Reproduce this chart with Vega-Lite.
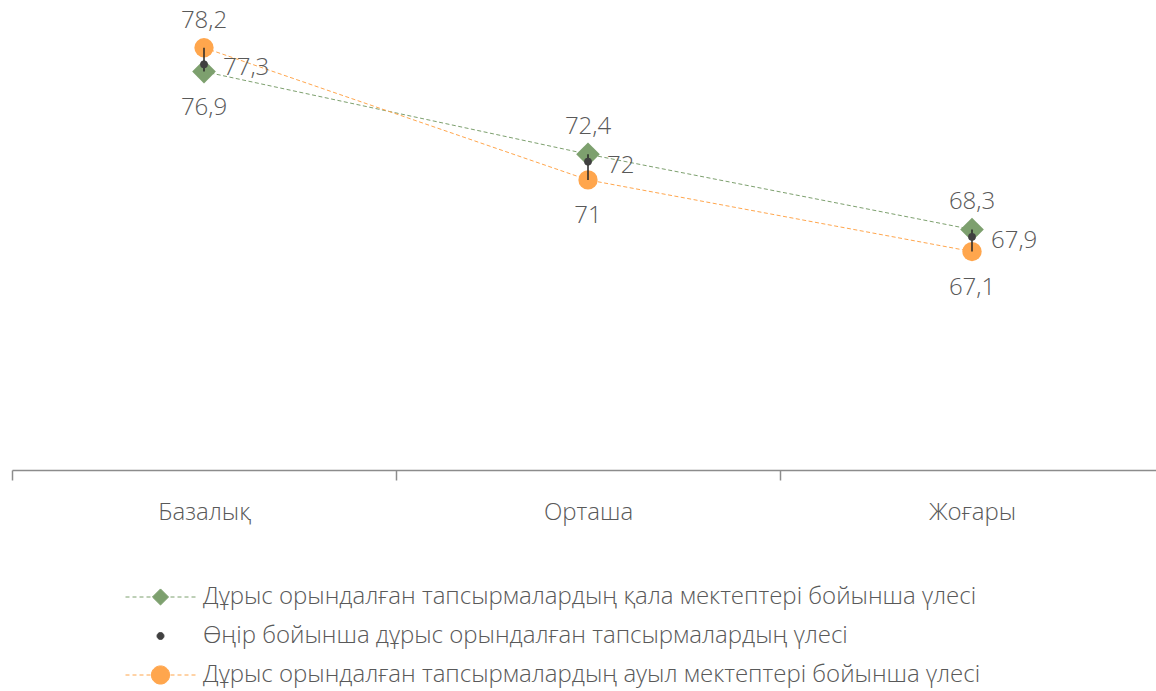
{
  "$schema": "https://vega.github.io/schema/vega-lite/v6.json",
  "width": 1144,
  "height": 470,
  "autosize": {"type": "none"},
  "padding": {"left": 12, "top": 0, "right": 0, "bottom": 221},
  "background": "white",
  "config": {
    "view": {"stroke": null},
    "font": "Open Sans",
    "locale": {"number": {"decimal": ",", "thousands": " ", "grouping": [3], "currency": ["", ""]}}
  },
  "data": {
    "values": [
      {"level": "Базалық", "type": "city", "value": 76.9},
      {"level": "Базалық", "type": "region", "value": 77.3},
      {"level": "Базалық", "type": "rural", "value": 78.2},
      {"level": "Орташа", "type": "city", "value": 72.4},
      {"level": "Орташа", "type": "region", "value": 72},
      {"level": "Орташа", "type": "rural", "value": 71},
      {"level": "Жоғары", "type": "city", "value": 68.3},
      {"level": "Жоғары", "type": "region", "value": 67.9},
      {"level": "Жоғары", "type": "rural", "value": 67.1}
    ]
  },
  "encoding": {
    "x": {
      "field": "level",
      "type": "nominal",
      "sort": ["Базалық", "Орташа", "Жоғары"],
      "scale": {"type": "band", "range": [0, 1152], "paddingInner": 0, "paddingOuter": 0},
      "axis": {
        "title": null,
        "grid": false,
        "domainColor": "#8C8C8C",
        "domainWidth": 1.5,
        "tickColor": "#8C8C8C",
        "tickWidth": 1.5,
        "tickSize": 10,
        "tickBand": "extent",
        "labelFontSize": 24,
        "labelColor": "#595959",
        "labelFont": "Open Sans",
        "labelFontWeight": 300,
        "labelPadding": 20,
        "labelAngle": 0
      }
    },
    "y": {
      "field": "value",
      "type": "quantitative",
      "scale": {"domain": [55.2, 80.8], "zero": false, "nice": false},
      "axis": null
    }
  },
  "layer": [
    {
      "transform": [{"filter": "datum.type != 'region'"}],
      "mark": {"type": "line", "strokeDash": [4, 2.5], "strokeWidth": 1},
      "encoding": {
        "color": {
          "field": "type",
          "type": "nominal",
          "scale": {"domain": ["city", "region", "rural"], "range": ["#7DA06E", "#404040", "#FFA64D"]},
          "legend": {
            "title": null,
            "orient": "none",
            "legendX": 113,
            "legendY": 582,
            "padding": 0,
            "rowPadding": 9,
            "clipHeight": 30,
            "symbolSize": 4900,
            "symbolOffset": 0,
            "labelOffset": 7,
            "labelFontSize": 24,
            "labelFont": "Open Sans",
            "labelFontWeight": 300,
            "labelColor": "#595959",
            "labelLimit": 0,
            "labelExpr": "datum.value == 'city' ? 'Дұрыс орындалған тапсырмалардың қала мектептері бойынша үлесі' : datum.value == 'region' ? 'Өңір бойынша дұрыс орындалған тапсырмалардың үлесі' : 'Дұрыс орындалған тапсырмалардың ауыл мектептері бойынша үлесі'",
            "encode": {
              "symbols": {
                "update": {
                  "shape": {"signal": "datum.value == 'city' ? 'M-1,0H-0.886M-0.8,0H-0.686M-0.6,0H-0.486M-0.4,0H-0.286M0.286,0H0.4M0.486,0H0.6M0.686,0H0.8M0.886,0H1M-0.23,0L0,-0.23L0.23,0L0,0.23Z' : datum.value == 'region' ? 'M-0.1,0A0.1,0.1,0,1,1,0.1,0A0.1,0.1,0,1,1,-0.1,0Z' : 'M-1,0H-0.886M-0.8,0H-0.686M-0.6,0H-0.486M-0.4,0H-0.286M0.286,0H0.4M0.486,0H0.6M0.686,0H0.8M0.886,0H1M-0.26,0A0.26,0.26,0,1,1,0.26,0A0.26,0.26,0,1,1,-0.26,0Z'"},
                  "size": {"value": 4900},
                  "fill": {"scale": "color", "field": "value"},
                  "stroke": {"scale": "color", "field": "value"},
                  "strokeWidth": {"value": 1},
                  "strokeDash": {"value": []},
                  "opacity": {"value": 1},
                  "fillOpacity": {"value": 1},
                  "strokeOpacity": {"value": 1}
                }
              }
            }
          }
        }
      }
    },
    {
      "transform": [{"filter": "datum.type == 'city'"}],
      "mark": {"type": "point", "shape": "diamond", "filled": true, "size": 560, "opacity": 1},
      "encoding": {"color": {"field": "type", "type": "nominal"}}
    },
    {
      "transform": [{"filter": "datum.type == 'rural'"}],
      "mark": {"type": "point", "shape": "circle", "filled": true, "size": 372, "opacity": 1},
      "encoding": {"color": {"field": "type", "type": "nominal"}}
    },
    {
      "transform": [{"filter": "datum.type != 'region'"}],
      "mark": {"type": "rule", "color": "#262626", "strokeWidth": 1.5},
      "encoding": {
        "y": {"aggregate": "min", "field": "value", "type": "quantitative"},
        "y2": {"aggregate": "max", "field": "value"}
      }
    },
    {
      "transform": [{"filter": "datum.type == 'region'"}],
      "mark": {"type": "point", "shape": "circle", "filled": true, "size": 60, "opacity": 1},
      "encoding": {"color": {"field": "type", "type": "nominal"}}
    },
    {
      "transform": [
        {"filter": "datum.type != 'region'"},
        {"joinaggregate": [{"op": "max", "field": "value", "as": "mx"}], "groupby": ["level"]},
        {"filter": "datum.value == datum.mx"}
      ],
      "mark": {"type": "text", "dy": -27, "fontSize": 24, "font": "Open Sans", "fontWeight": 300, "color": "#595959", "baseline": "middle", "align": "center"},
      "encoding": {"text": {"field": "value", "type": "quantitative", "format": ".1~f"}}
    },
    {
      "transform": [
        {"filter": "datum.type != 'region'"},
        {"joinaggregate": [{"op": "max", "field": "value", "as": "mx"}], "groupby": ["level"]},
        {"filter": "datum.value != datum.mx"}
      ],
      "mark": {"type": "text", "dy": 36, "fontSize": 24, "font": "Open Sans", "fontWeight": 300, "color": "#595959", "baseline": "middle", "align": "center"},
      "encoding": {"text": {"field": "value", "type": "quantitative", "format": ".1~f"}}
    },
    {
      "transform": [{"filter": "datum.type == 'region'"}],
      "mark": {"type": "text", "dx": 19, "dy": 4, "fontSize": 24, "font": "Open Sans", "fontWeight": 300, "color": "#595959", "baseline": "middle", "align": "left"},
      "encoding": {"text": {"field": "value", "type": "quantitative", "format": ".1~f"}}
    }
  ]
}
